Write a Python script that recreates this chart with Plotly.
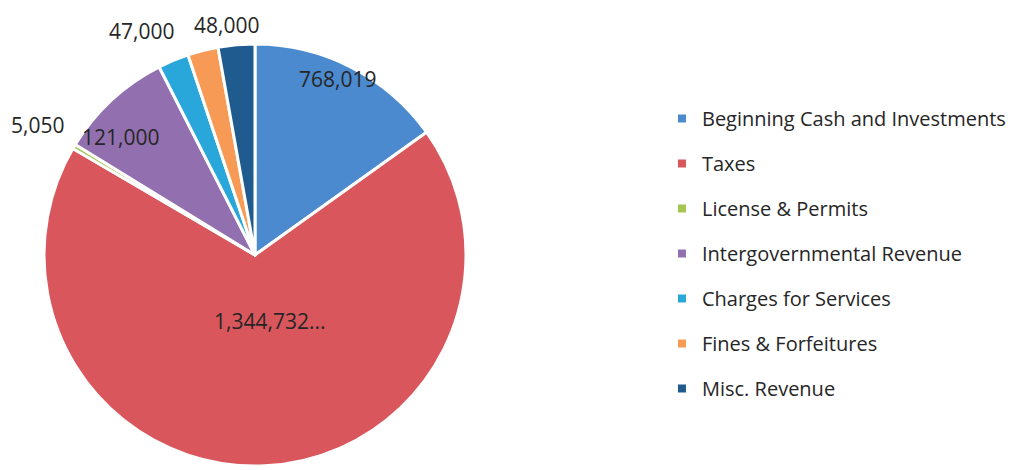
import math
import plotly.graph_objects as go

categories = ["Beginning Cash and Investments", "Taxes", "License & Permits",
              "Intergovernmental Revenue", "Charges for Services",
              "Fines & Forfeitures", "Misc. Revenue"]
# slice sizes (angular shares)
values = [768019, 3471600, 18350, 443300, 120000, 118600, 142600]
# data labels as printed on the chart
label_text = ["768,019", "1,344,732...", "5,050", "121,000", "47,000", "", "48,000"]
colors = ["#4C8AD0", "#D9575C", "#A4C653", "#9270B0", "#29A7DA", "#F69A55", "#1F5B8F"]

# label placement (fraction of radius from pie centre, angular nudge in degrees)
label_radius = [0.92, 0.32, 1.20, 0.85, 1.19, None, 1.10]
label_nudge = [-2, -10, 0, -6, -4, 0, -2]

FONT = "Open Sans"
W, H = 1015, 470
CX, CY, R = 247, 247, 211  # pie centre / radius in pixels

dom_x = [(CX - R) / W, (CX + R) / W]
dom_y = [1 - (CY + R) / H, 1 - (CY - R) / H]

fig = go.Figure()
fig.add_trace(go.Pie(
    labels=categories, values=values, textinfo="none",
    sort=False, direction="clockwise", rotation=0,
    marker=dict(colors=colors, line=dict(color="white", width=3)),
    showlegend=False, hoverinfo="label+value",
    domain=dict(x=dom_x, y=dom_y),
))
for i, (name, col) in enumerate(zip(categories, colors)):
    fig.add_trace(go.Scatter(
        x=[None], y=[None], mode="markers", name=name, legendgroup=f"g{i}",
        marker=dict(symbol="square", size=8, color=col), hoverinfo="skip",
    ))

# data labels placed at each slice's mid-angle
total = sum(values)
cum = 0.0
annotations = []
for v, txt, rho, nudge in zip(values, label_text, label_radius, label_nudge):
    mid = (cum + v / 2) / total * 360.0
    cum += v
    if not txt or rho is None:
        continue
    th = math.radians(mid + nudge)
    px = CX + rho * R * math.sin(th)
    py = CY - rho * R * math.cos(th)
    annotations.append(dict(
        x=px / W, y=1 - py / H, xref="paper", yref="paper",
        text=txt, showarrow=False, xanchor="center", yanchor="middle",
        borderpad=0,
        font=dict(family=FONT, size=21, color="#262626"),
    ))

fig.update_layout(
    width=W, height=H,
    margin=dict(l=0, r=0, t=0, b=0),
    paper_bgcolor="white", plot_bgcolor="white",
    xaxis=dict(visible=False), yaxis=dict(visible=False),
    legend=dict(x=0.6443, xanchor="left", y=1 - 91 / H, yanchor="top",
                font=dict(family=FONT, size=20, color="#262626"),
                tracegroupgap=16, bgcolor="rgba(0,0,0,0)"),
    annotations=annotations,
    font=dict(family=FONT),
)
fig.write_html("out.html")
